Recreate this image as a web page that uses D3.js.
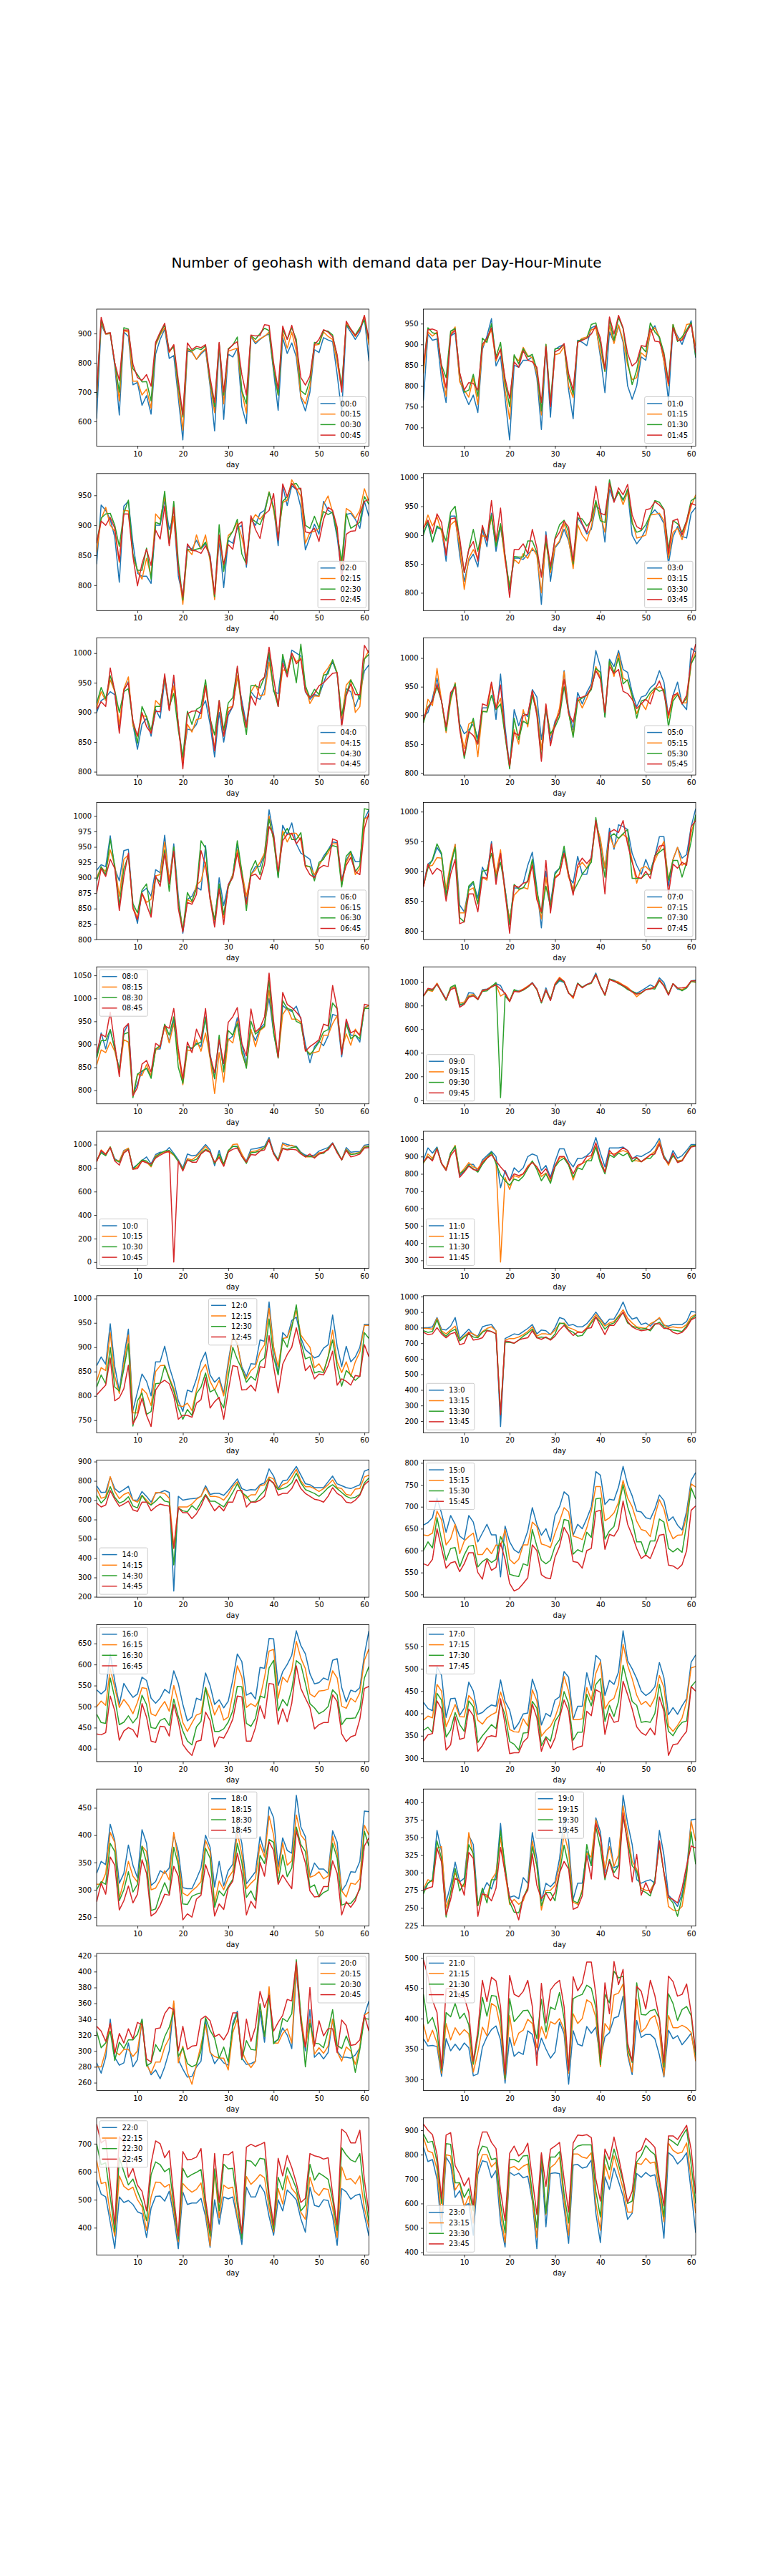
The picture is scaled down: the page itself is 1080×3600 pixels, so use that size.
<!DOCTYPE html>
<html>
<head>
<meta charset="utf-8">
<script src="https://cdn.jsdelivr.net/npm/d3@7"></script>
<style>
body { margin: 0; background: #fff; }
svg { display: block; font-family: "DejaVu Sans", sans-serif; }
</style>
</head>
<body>
<div id="chart"></div>
<script>
var days = [1,2,3,4,5,6,7,8,9,10,11,12,13,14,15,16,17,18,19,20,21,22,23,24,25,26,27,28,29,30,
    31,32,33,34,35,36,37,38,39,40,41,42,43,44,45,46,47,48,49,50,51,52,53,54,55,56,57,58,59,60,61];
var hours = ["00","01","02","03","04","05","06","07","08","09","10","11",
    "12","13","14","15","16","17","18","19","20","21","22","23"];
var minutes = ["0","15","30","45"];
var legendLoc = ["lower right","lower right","lower right","lower right","lower right","lower right",
    "lower right","lower right","upper left","lower left","lower left","lower left",
    "upper center","lower left","lower left","upper left","upper left","upper left",
    "upper center","upper center","upper right","upper left","upper left","lower left"];

// one row per day: counts at :0, :15, :30, :45
var h00 = [[610,680,690,700],[930,940,945,955],[898,898,900,900],[900,900,902,903],[790,800,800,800],[622,670,700,740],[905,910,920,912],[890,905,915,912],[725,737,780,795],[733,738,760,750],
[655,690,735,740],[688,710,736,760],[625,645,670,720],[830,860,865,870],[880,895,900,905],[915,920,930,935],[815,835,840,838],[825,860,855,862],[680,700,720,740],[537,570,615,622],
[840,845,850,868],[837,838,840,845],[812,812,850,856],[830,835,845,852],[845,848,858,862],[720,730,740,750],[568,630,650,665],[860,865,866,870],[607,660,690,700],[830,840,848,845],
[820,845,860,862],[850,850,888,872],[650,700,705,760],[593,628,660,690],[890,893,893,895],[865,870,880,892],[880,882,900,893],[892,890,918,930],[898,905,910,928],[770,780,780,800],
[638,690,690,710],[885,905,915,925],[832,850,880,880],[868,905,920,928],[820,840,880,865],[680,685,705,750],[636,660,692,724],[700,720,740,755],[845,860,870,862],[835,863,865,880],
[886,905,910,913],[878,890,908,905],[872,880,895,888],[760,800,820,828],[630,710,720,700],[928,935,930,942],[905,912,915,915],[880,890,895,893],[905,915,920,912],[955,960,945,962],
[805,860,880,880]];
var h01 = [[765,830,850,850],[925,930,940,935],[910,920,928,937],[913,930,925,933],[815,840,850,845],[760,775,820,795],[920,925,932,922],[928,942,938,935],[815,810,830,832],[780,790,785,790],
[755,773,790,808],[778,820,828,806],[736,755,775,790],[888,895,915,900],[920,912,905,915],[962,935,950,940],[848,860,870,865],[872,890,905,888],[770,790,810,818],[670,720,750,770],
[850,872,875,858],[845,860,853,845],[862,893,890,885],[862,873,870,862],[870,868,876,858],[820,830,840,845],[695,730,740,760],[893,900,900,895],[725,755,760,750],[888,875,890,882],
[895,878,890,888],[900,895,900,902],[790,800,820,830],[721,772,780,790],[910,905,908,905],[905,915,912,910],[897,918,915,915],[940,935,948,925],[945,940,952,945],[870,880,900,915],
[784,835,835,840],[930,945,960,966],[905,902,910,925],[945,947,965,970],[905,910,938,940],[800,850,860,878],[768,815,803,848],[800,820,838,858],[870,880,895,897],[862,870,882,895],
[930,930,952,940],[945,940,930,908],[915,918,918,906],[860,860,880,875],[765,800,810,805],[940,948,948,940],[920,915,907,910],[900,912,918,910],[930,948,935,930],[957,950,952,948],
[868,895,870,880]];
var h02 = [[835,855,870,870],[934,910,912,907],[925,930,919,900],[910,900,920,913],[880,890,900,895],[805,838,865,840],[932,925,920,919],[940,924,942,919],[870,850,852,848],[820,825,825,799],
[815,810,825,836],[815,845,862,860],[803,815,810,833],[900,919,905,892],[900,910,902,877],[942,948,957,932],[893,870,870,866],[915,915,940,930],[815,830,840,825],[780,768,775,780],
[865,860,860,869],[860,851,858,858],[875,884,860,857],[860,860,862,853],[870,884,872,866],[850,840,845,848],[780,776,781,785],[875,880,901,884],[796,830,823,835],[875,883,878,868],
[870,890,890,860],[895,905,910,900],[900,880,852,906],[830,845,835,835],[910,905,912,916],[900,918,906,893],[920,910,901,878],[925,920,920,918],[955,956,955,925],[930,925,930,953],
[866,880,880,875],[965,938,940,969],[933,942,948,948],[966,976,968,970],[960,962,970,960],[930,948,958,962],[859,870,900,889],[880,888,895,887],[902,890,915,895],[885,895,895,873],
[940,935,923,910],[925,949,918,930],[920,922,922,925],[880,890,885,897],[820,830,840,806],[918,928,920,885],[920,923,895,890],[910,912,900,891],[895,925,905,920],[940,961,948,940],
[915,940,935,943]];
var h03 = [[905,910,900,912],[920,935,925,926],[888,916,888,903],[913,932,916,937],[910,906,910,922],[855,870,890,865],[933,918,940,928],[933,925,950,930],[865,880,890,895],[820,806,835,835],
[855,860,875,875],[867,875,910,889],[845,860,872,855],[910,900,912,917],[880,895,895,890],[938,930,935,960],[872,885,880,890],[915,918,920,947],[862,855,865,862],[805,812,808,792],
[860,858,863,875],[860,851,862,875],[858,868,862,885],[867,860,890,868],[875,878,890,910],[870,865,870,878],[780,800,830,827],[906,890,890,900],[820,835,840,846],[878,880,895,893],
[888,890,918,905],[910,920,926,924],[890,893,905,914],[850,842,850,855],[930,918,930,940],[918,900,928,920],[902,890,916,905],[910,915,925,930],[950,955,960,985],[945,935,925,938],
[888,905,922,935],[980,990,996,990],[958,960,960,957],[975,976,975,982],[962,953,960,970],[975,975,980,988],[900,925,920,935],[885,895,905,915],[895,897,908,910],[910,900,918,944],
[935,935,935,946],[944,936,960,958],[935,938,957,952],[920,925,945,944],[850,860,875,867],[897,905,925,925],[915,912,920,928],[898,892,905,900],[895,920,925,925],[938,950,960,955],
[948,970,965,952]];
var h04 = [[900,908,915,905],[920,935,942,918],[925,920,923,910],[935,955,962,975],[930,935,937,935],[875,880,900,865],[937,940,935,938],[952,960,940,950],[880,878,885,885],[838,860,848,860],
[880,895,910,900],[890,893,893,876],[860,865,870,865],[905,920,910,902],[890,912,910,901],[955,958,960,965],[905,905,910,903],[958,945,932,963],[880,880,870,880],[820,815,825,805],
[872,880,902,898],[870,867,880,902],[880,888,905,903],[905,890,910,898],[920,945,955,945],[880,890,890,893],[825,840,862,835],[900,915,920,920],[850,860,870,860],[895,908,916,900],
[910,910,925,910],[960,962,975,978],[920,910,905,912],[880,875,863,875],[935,935,945,928],[925,947,945,912],[922,928,941,952],[940,930,960,960],[998,985,1002,1010],[935,940,938,958],
[932,915,910,910],[990,972,998,983],[965,970,965,960],[1005,1000,995,1000],[1000,985,950,982],[995,992,1015,990],[935,945,945,935],[922,915,925,925],[930,928,939,932],[928,927,930,945],
[950,965,963,950],[970,975,965,958],[985,988,989,966],[965,967,965,967],[880,890,895,876],[940,946,930,928],[935,955,955,948],[910,900,940,930],[930,910,922,930],[970,990,990,1013],
[980,1005,998,1000]];
var h05 = [[900,887,887,893],[905,928,915,913],[930,917,925,925],[965,982,950,955],[925,925,925,925],[875,870,873,880],[935,925,930,940],[955,957,955,950],[885,880,880,875],[868,842,825,830],
[875,885,868,872],[885,890,895,865],[860,828,850,850],[913,907,907,920],[913,907,906,917],[955,955,935,958],[893,912,910,912],[972,930,920,953],[880,865,865,870],[810,810,807,812],
[910,875,895,870],[882,850,858,865],[905,910,890,900],[898,880,885,902],[945,942,935,943],[932,910,905,900],[858,840,825,820],[912,918,912,920],[855,865,868,847],[890,885,880,885],
[905,913,898,905],[978,976,950,963],[910,905,905,903],[875,865,862,888],[940,930,925,930],[920,913,930,932],[940,930,935,935],[955,950,945,948],[1013,985,982,978],[985,965,975,963],
[898,905,897,905],[998,993,995,985],[985,968,975,973],[1013,1008,1000,980],[980,965,955,942],[975,960,962,938],[940,932,935,928],[915,903,895,912],[932,922,925,920],[935,910,928,928],
[948,935,940,920],[955,945,948,945],[978,950,942,960],[958,945,945,938],[898,895,880,900],[935,930,925,935],[958,940,936,938],[920,922,920,920],[910,922,930,935],[1017,990,990,995],
[1010,1010,1005,1024]];
var h06 = [[912,900,895,875],[921,917,918,915],[918,910,905,902],[968,945,963,930],[915,920,918,915],[895,870,855,847],[944,930,915,902],[946,937,935,940],[855,852,858,850],[826,835,843,832],
[877,875,880,875],[883,860,890,856],[870,865,840,836],[913,903,900,903],[908,905,893,886],[969,958,945,940],[893,895,878,890],[955,948,950,943],[870,862,860,850],[810,815,815,812],
[865,865,876,860],[870,860,862,857],[885,888,882,873],[880,895,960,944],[952,925,948,920],[870,870,865,865],[825,830,832,820],[900,888,890,882],[855,835,840,824],[888,885,885,889],
[905,905,902,900],[955,945,960,940],[905,910,910,900],[862,870,847,857],[905,905,912,903],[918,913,928,906],[918,925,905,897],[940,940,935,922],[1010,1000,995,983],[970,960,962,970],
[901,907,900,910],[985,976,968,960],[970,958,980,970],[989,972,962,972],[955,972,962,955],[940,960,973,965],[935,918,920,918],[930,918,918,905],[900,905,895,900],[920,920,925,915],
[935,932,930,920],[945,940,945,918],[958,955,952,963],[957,955,950,960],[895,888,885,895],[928,925,935,920],[942,940,943,933],[926,905,910,910],[926,915,920,905],[995,995,1012,980],
[1010,1000,1010,1005]];
var h07 = [[878,875,875,873],[912,908,905,912],[918,910,920,895],[940,923,946,905],[928,922,930,900],[860,870,858,850],[905,915,910,895],[945,945,940,920],[843,830,822,812],[832,830,815,815],
[872,868,875,862],[880,872,883,862],[855,845,845,832],[907,890,900,890],[892,885,902,888],[950,945,930,946],[885,895,890,878],[930,936,915,930],[870,860,870,865],[815,820,810,796],
[872,860,878,876],[872,868,870,873],[880,873,872,880],[910,870,885,882],[932,915,920,910],[872,860,868,852],[805,820,830,832],[900,890,875,918],[845,840,840,830],[898,890,895,888],
[905,896,905,895],[935,930,942,930],[890,890,895,895],[880,870,865,860],[925,905,880,910],[895,915,895,922],[895,905,905,913],[925,920,915,922],[985,980,990,985],[950,955,940,935],
[905,905,890,862],[972,960,958,965],[937,940,963,970],[978,955,955,965],[975,962,963,985],[970,955,970,945],[930,918,888,915],[910,880,888,890],[895,905,888,888],[920,908,895,900],
[900,900,895,888],[925,918,926,925],[958,935,932,942],[958,950,938,944],[875,885,885,862],[920,920,918,912],[940,940,918,905],[922,910,890,915],[928,915,915,910],[975,965,950,975],
[1005,990,995,985]];
var h08 = [[870,855,870,880],[925,888,908,922],[890,882,908,916],[932,905,932,970],[890,885,890,900],[845,840,845,830],[925,910,922,935],[945,905,926,945],[790,790,784,788],[815,835,835,806],
[840,832,842,857],[848,856,848,865],[830,832,826,840],[890,887,890,902],[890,895,897,895],[942,940,944,940],[905,903,920,935],[955,945,960,978],[880,880,850,890],[820,812,815,825],
[895,888,895,905],[890,885,892,882],[903,910,900,933],[895,885,905,910],[960,925,958,978],[880,870,873,875],[825,793,826,838],[910,882,920,910],[845,818,840,858],[910,912,930,948],
[918,903,920,960],[958,950,945,980],[900,880,886,902],[858,852,848,875],[930,933,950,977],[908,895,922,927],[935,930,932,936],[945,938,940,960],[1000,1018,1040,1055],[925,930,925,950],
[875,872,870,872],[985,965,995,1013],[975,980,978,987],[972,955,975,980],[983,955,950,970],[955,948,945,958],[900,888,890,885],[860,880,877,895],[895,882,890,902],[907,885,905,910],
[897,920,927,944],[918,920,932,940],[965,945,990,1028],[962,963,977,978],[873,888,880,878],[950,923,945,955],[920,898,912,925],[920,933,920,930],[905,918,912,920],[980,978,978,987],
[985,985,978,985]];
var h09 = [[880,880,880,880],[940,930,935,945],[925,920,930,938],[985,990,980,982],[920,915,915,915],[855,850,843,850],[945,950,955,935],[965,960,975,950],[800,820,810,786],[820,830,815,810],
[910,885,875,870],[905,895,885,882],[855,855,850,852],[935,930,920,925],[940,935,925,935],[960,965,960,955],[985,975,995,975],[970,880,20,940],[890,905,880,905],[840,840,835,833],
[930,925,935,920],[925,920,915,915],[935,940,930,935],[960,965,955,960],[995,990,990,990],[940,935,935,940],[825,830,822,830],[950,935,925,930],[845,850,855,842],[970,985,975,980],
[1010,1040,1020,1030],[995,1005,1000,1005],[905,910,905,905],[870,860,875,870],[990,985,990,985],[955,955,955,950],[980,975,975,978],[995,990,990,995],[1075,1060,1065,1062],[960,965,970,965],
[895,890,885,890],[1025,1025,1025,1020],[1015,1010,1010,1005],[995,1000,985,990],[965,975,965,970],[945,955,935,945],[920,920,920,915],[905,875,900,895],[925,905,905,910],[950,935,935,935],
[975,945,945,940],[955,960,940,955],[1035,1020,1010,1015],[995,970,970,965],[890,900,895,888],[985,985,985,985],[940,945,950,948],[930,935,925,950],[950,960,950,955],[1010,1005,1005,1010],
[1015,995,1000,1010]];
var h10 = [[860,855,865,855],[940,955,930,950],[915,920,905,915],[975,980,980,975],[880,870,870,860],[855,860,850,825],[950,945,930,930],[965,970,960,955],[800,790,790,790],[830,810,830,795],
[865,860,870,860],[895,850,860,845],[835,810,820,835],[915,905,895,885],[935,920,925,910],[935,940,945,930],[975,935,950,945],[925,910,915,0],[870,860,855,860],[800,790,790,775],
[920,880,870,870],[905,870,860,850],[910,900,875,850],[955,940,925,920],[1000,985,960,950],[955,935,935,935],[820,840,840,850],[950,900,920,890],[820,820,835,815],[940,935,950,935],
[985,1000,985,960],[985,1005,980,970],[910,920,900,900],[860,850,840,850],[960,940,930,915],[965,945,935,910],[975,960,945,945],[985,975,975,955],[1060,1045,1040,1040],[935,925,925,920],
[870,865,870,860],[1015,1005,970,965],[1000,985,960,955],[990,995,975,960],[985,975,980,955],[935,930,925,920],[910,895,900,895],[905,895,900,920],[910,900,890,885],[945,930,920,920],
[960,935,925,935],[975,965,965,955],[1015,1010,1010,1010],[945,935,940,930],[870,870,870,870],[975,960,955,950],[935,920,915,895],[940,925,920,905],[940,935,930,920],[995,985,975,970],
[1000,985,985,975]];
var h11 = [[880,860,865,870],[950,915,900,898],[920,890,880,875],[955,945,950,945],[860,860,860,860],[825,830,820,820],[920,915,920,905],[955,965,960,940],[790,800,800,780],[815,830,820,810],
[855,865,850,845],[855,840,830,825],[815,830,810,820],[880,870,855,865],[905,895,890,890],[930,920,925,910],[900,870,860,875],[720,290,795,840],[820,780,760,810],[760,710,735,760],
[835,790,770,800],[810,780,760,790],[835,800,785,800],[900,845,830,840],[915,870,875,865],[905,840,825,840],[820,785,760,800],[848,805,800,830],[780,755,745,770],[870,845,840,845],
[945,890,875,900],[945,900,890,900],[875,855,850,860],[840,765,780,800],[890,840,835,850],[890,860,825,860],[905,875,875,900],[930,895,875,905],[1010,960,955,980],[920,880,860,880],
[840,810,800,810],[950,920,910,935],[950,915,895,905],[950,925,920,930],[955,935,905,950],[935,925,920,935],[885,875,870,890],[905,875,890,895],[900,870,870,870],[915,885,890,890],
[930,910,890,910],[960,930,920,915],[1005,990,970,975],[905,900,895,890],[860,850,860,860],[935,910,905,920],[890,875,870,865],[905,880,875,875],[935,920,920,915],[970,960,960,955],
[970,965,965,960]];
var h12 = [[862,830,818,802],[880,858,843,812],[865,852,825,822],[948,930,900,878],[860,840,818,790],[810,805,810,796],[880,865,855,815],[937,925,907,863],[770,765,738,742],[808,765,790,760],
[845,815,806,795],[830,805,762,760],[800,780,768,737],[870,850,825,812],[870,862,826,826],[902,863,862,832],[860,838,835,825],[830,815,810,800],[790,780,775,752],[768,778,752,760],
[812,785,772,760],[808,770,760,756],[835,812,805,785],[870,850,818,792],[890,865,847,838],[843,830,808,775],[828,812,813,788],[838,832,793,797],[805,800,775,752],[870,862,840,810],
[925,925,900,862],[905,908,875,860],[860,855,855,812],[840,835,828,813],[866,852,840,822],[865,860,832,810],[915,890,870,860],[912,905,878,858],[993,980,958,924],[900,900,880,860],
[845,860,843,806],[930,918,918,865],[920,920,900,885],[955,945,940,900],[962,975,987,940],[920,925,912,900],[895,912,876,852],[887,900,880,862],[878,858,847,835],[882,866,850,845],
[898,850,848,843],[905,880,880,862],[966,935,915,892],[902,870,860,822],[860,848,820,835],[902,870,852,830],[870,840,843,822],[880,870,832,842],[900,890,840,840],[947,945,930,905],
[947,945,918,880]];
var h13 = [[800,795,780,770],[800,795,770,755],[805,790,775,760],[865,860,850,800],[790,780,770,760],[785,760,745,735],[810,785,775,760],[865,810,790,770],[730,720,715,690],[760,745,740,700],
[790,770,760,770],[755,760,740,720],[745,740,735,725],[805,775,770,735],[815,795,785,780],[820,805,775,775],[780,780,760,760],[165,250,240,240],[730,720,705,715],[745,730,705,710],
[760,730,700,700],[755,740,720,720],[775,755,745,730],[795,775,765,735],[820,805,790,780],[760,745,735,735],[785,760,740,725],[780,760,735,740],[755,755,725,720],[800,785,760,745],
[865,825,830,785],[855,830,825,815],[815,800,785,780],[820,790,770,750],[805,775,745,770],[805,770,750,770],[825,800,790,795],[860,840,830,800],[900,885,870,870],[860,850,835,810],
[820,810,790,755],[855,830,820,815],[855,840,830,815],[905,875,870,855],[965,915,895,900],[890,860,830,840],[855,830,810,805],[865,805,800,790],[820,800,790,780],[830,795,795,785],
[810,825,780,790],[840,840,820,825],[860,865,835,825],[815,820,805,795],[810,800,790,795],[820,805,785,770],[820,800,780,760],[820,800,775,770],[840,820,810,800],[905,870,855,850],
[900,885,880,865]];
var h14 = [[775,760,725,685],[740,710,685,665],[742,718,710,675],[820,822,770,750],[760,745,715,705],[740,708,685,668],[755,730,695,680],[772,740,718,695],[700,700,670,650],[700,690,660,642],
[745,725,725,690],[720,700,690,690],[690,675,675,645],[735,740,695,665],[740,738,720,680],[750,735,695,673],[740,710,690,670],[230,460,365,450],[720,665,660,660],[700,665,645,635],
[705,665,640,635],[708,680,672,605],[710,705,650,630],[720,720,690,670],[775,765,730,725],[730,720,695,685],[735,720,695,645],[735,715,680,670],[725,700,665,645],[750,730,700,690],
[780,770,740,690],[810,795,785,750],[760,740,740,750],[750,710,722,665],[755,728,690,690],[753,728,695,690],[780,775,725,700],[790,780,750,720],[862,820,810,805],[825,810,785,790],
[760,755,755,725],[800,780,760,735],[805,790,770,735],[840,820,790,760],[875,860,840,808],[830,800,790,760],[785,770,755,735],[780,770,745,720],[765,760,735,705],[765,745,720,700],
[765,760,740,690],[795,780,765,720],[825,805,780,765],[785,765,760,735],[775,760,740,720],[765,730,720,690],[760,725,710,685],[770,758,715,700],[780,760,730,725],[850,820,790,780],
[860,830,815,800]];
var h15 = [[658,636,600,570],[664,634,620,566],[675,640,606,580],[720,690,675,650],[685,670,625,605],[642,613,578,560],[680,627,605,572],[660,660,607,575],[633,593,563,552],[625,622,590,570],
[680,632,610,595],[665,640,612,595],[620,591,563,550],[640,591,575,535],[660,606,582,580],[636,593,573,555],[636,613,580,562],[540,610,632,617],[656,648,610,580],[620,580,546,525],
[602,570,543,508],[595,580,541,513],[615,613,570,525],[645,613,566,538],[698,665,648,613],[660,655,610,600],[635,615,578,545],[650,612,570,538],[621,607,578,536],[680,640,610,585],
[700,667,625,610],[734,698,671,653],[725,688,668,635],[635,633,592,575],[660,630,602,573],[650,625,597,560],[673,652,642,600],[700,690,630,605],[780,746,718,689],[772,746,720,692],
[705,668,626,603],[717,675,645,637],[715,686,655,633],[745,710,700,650],[792,760,750,713],[750,720,700,660],[725,700,668,635],[690,667,620,605],[688,648,620,582],[675,645,590,590],
[672,632,622,582],[695,680,622,608],[727,716,672,635],[714,695,665,637],[668,650,605,567],[677,627,597,565],[658,635,605,558],[647,636,596,568],[690,680,660,600],[760,752,743,692],
[778,745,718,702]];
var h16 = [[540,500,482,435],[530,513,462,433],[540,503,460,438],[625,590,568,525],[560,545,520,490],[505,498,457,420],[555,517,463,442],[537,503,478,450],[522,483,461,445],[530,510,475,427],
[570,545,527,507],[562,543,505,475],[520,483,450,418],[508,478,448,415],[520,497,467,453],[541,512,472,452],[532,489,455,430],[585,550,518,505],[555,510,476,465],[505,462,442,410],
[466,441,418,395],[475,461,409,384],[520,480,452,417],[515,484,465,420],[580,546,545,487],[550,518,491,467],[505,480,441,404],[516,503,441,428],[497,468,447,425],[513,475,463,445],
[563,530,490,470],[625,597,548,525],[607,570,547,523],[527,498,460,418],[533,507,453,418],[518,500,472,450],[593,520,525,502],[591,570,521,472],[662,632,592,555],[661,636,610,553],
[550,520,490,458],[583,570,517,495],[600,558,502,464],[622,586,541,508],[680,655,609,597],[645,615,600,543],[625,590,555,520],[578,530,507,498],[554,523,497,447],[557,537,483,457],
[568,538,489,462],[563,541,500,462],[610,585,540,528],[614,568,528,512],[545,501,457,435],[511,496,472,417],[539,520,472,428],[535,511,473,432],[545,533,495,470],[623,610,568,543],
[680,637,595,548]];
var h17 = [[425,385,362,338],[411,394,369,352],[406,390,357,355],[505,465,445,428],[485,450,430,410],[391,370,347,318],[433,395,363,330],[434,420,402,393],[396,393,375,342],[412,392,360,345],
[470,440,428,410],[450,428,415,395],[398,385,335,315],[402,376,350,328],[412,390,362,347],[419,397,375,350],[416,402,366,348],[475,448,425,433],[427,416,397,376],[408,364,337,310],
[364,359,331,312],[378,358,318,312],[399,388,356,336],[401,372,357,346],[477,453,427,421],[447,428,412,390],[374,349,328,315],[400,362,348,345],[393,371,338,322],[430,391,382,345],
[437,421,398,390],[494,483,449,430],[481,450,422,405],[387,386,340,318],[416,386,358,324],[416,388,358,327],[491,458,443,405],[452,430,417,395],[530,490,465,453],[520,515,478,447],
[440,410,382,353],[474,427,418,400],[465,434,393,380],[493,465,427,383],[585,555,508,472],[518,508,467,442],[500,478,427,410],[478,441,418,370],[450,420,380,357],[440,427,382,351],
[447,415,380,367],[460,435,400,352],[514,485,465,437],[480,458,415,405],[397,372,360,306],[413,360,350,330],[398,373,368,332],[417,390,380,347],[433,427,383,360],[515,502,460,460],
[531,505,472,450]];
var h18 = [[330,310,300,278],[352,310,315,312],[346,330,310,292],[420,405,385,360],[390,387,370,345],[312,285,280,263],[330,315,300,280],[382,352,333,307],[345,325,296,276],[322,314,310,292],
[410,380,380,355],[385,370,350,330],[308,300,262,252],[315,303,265,258],[335,318,292,272],[330,335,313,292],[340,318,292,290],[400,405,378,343],[370,354,345,325],[304,294,274,245],
[302,289,273,256],[302,298,288,250],[320,305,292,283],[340,315,294,290],[400,390,376,346],[378,370,358,322],[305,276,268,252],[352,316,298,274],[307,300,289,264],[335,322,306,303],
[347,334,319,316],[422,405,385,367],[385,365,350,330],[311,302,286,254],[322,312,298,279],[333,320,280,266],[397,383,363,350],[368,360,348,325],[452,435,392,388],[432,400,387,372],
[342,330,313,310],[395,386,364,327],[372,345,324,314],[367,353,340,302],[473,437,415,408],[415,400,383,377],[397,390,370,349],[325,323,304,298],[349,326,309,287],[338,333,287,288],
[338,320,295,306],[330,325,299,306],[408,398,385,353],[387,368,358,330],[298,298,272,254],[310,287,275,278],[333,312,275,268],[332,310,285,280],[352,320,301,305],[444,418,407,380],
[443,400,380,395]];
var h19 = [[275,277,270,275],[285,290,285,278],[290,287,290,280],[360,335,345,335],[330,337,320,315],[258,250,237,240],[282,270,272,262],[315,300,306,292],[287,285,274,288],[292,280,285,268],
[353,357,340,329],[340,325,327,320],[254,253,253,238],[272,270,278,270],[286,265,257,268],[277,290,290,260],[297,300,290,278],[370,350,360,336],[300,300,310,300],[265,255,258,265],
[267,262,244,252],[263,255,243,233],[293,260,265,265],[285,280,278,275],[357,345,337,327],[320,310,310,282],[260,247,253,263],[285,275,272,271],[280,275,272,260],[287,282,260,272],
[320,310,300,300],[378,355,339,316],[345,330,310,305],[262,258,260,248],[285,255,257,251],[285,276,273,267],[330,328,340,324],[310,322,310,291],[378,375,365,370],[358,350,335,350],
[300,305,290,293],[350,337,319,316],[307,309,300,295],[310,325,310,291],[410,395,380,385],[370,355,345,340],[340,316,310,287],[290,305,302,326],[285,278,275,268],[288,275,272,286],
[290,275,267,271],[285,287,290,285],[360,345,340,345],[325,300,300,300],[268,252,265,265],[261,247,257,262],[252,246,238,257],[270,252,265,278],[303,295,300,310],[375,373,358,338],
[376,345,312,335]];
var h20 = [[285,280,325,331],[272,280,304,325],[292,300,310,312],[340,335,325,335],[292,300,288,297],[282,295,311,322],[285,302,303,310],[310,302,314,328],[280,293,314,315],[289,300,321,336],
[340,338,340,333],[285,283,281,290],[270,272,285,286],[276,286,308,328],[265,286,299,329],[280,305,318,347],[300,316,330,355],[360,363,350,352],[289,285,293,300],[277,306,304,331],
[267,273,284,302],[268,258,280,306],[280,283,283,307],[287,308,300,340],[340,333,342,344],[300,298,326,338],[284,293,316,318],[292,291,291,321],[285,291,305,314],[282,276,286,324],
[335,323,331,348],[350,340,347,348],[291,300,289,291],[283,287,313,340],[284,279,302,312],[287,287,301,330],[350,360,359,375],[311,318,318,355],[375,381,370,370],[311,310,309,325],
[314,310,315,336],[329,322,341,345],[320,328,337,365],[303,310,347,363],[400,405,415,412],[340,345,345,335],[300,305,280,305],[352,340,335,380],[292,296,310,306],[298,304,309,338],
[290,297,304,319],[298,306,325,328],[340,340,352,328],[300,299,307,298],[292,287,303,339],[292,305,319,332],[291,300,304,307],[295,283,273,308],[304,306,302,314],[345,345,341,345],
[363,349,340,325]];
var h21 = [[367,391,440,497],[355,362,392,470],[356,381,402,430],[354,360,378,410],[305,310,315,318],[367,392,410,449],[347,365,403,450],[358,385,425,448],[348,373,400,435],[360,382,409,435],
[352,375,390,410],[306,312,325,330],[309,345,370,380],[353,386,435,463],[370,372,404,428],[382,425,438,468],[388,420,437,462],[365,385,405,420],[294,300,302,308],[369,405,433,471],
[338,356,395,440],[345,376,404,436],[341,381,413,445],[380,399,414,463],[374,392,400,420],[340,352,367,323],[368,387,432,458],[350,367,378,393],[335,395,419,447],[345,391,415,457],
[394,400,443,463],[375,382,400,420],[292,310,318,315],[380,408,433,469],[358,392,437,446],[355,400,440,458],[387,431,455,493],[376,426,450,493],[386,402,418,440],[333,321,324,334],
[370,392,440,459],[377,381,426,408],[401,439,478,494],[404,442,467,456],[437,457,470,481],[340,345,350,360],[308,312,328,330],[397,432,459,453],[369,378,407,445],[374,385,406,416],
[374,400,413,463],[367,405,415,438],[340,380,400,400],[304,306,320,328],[381,405,441,470],[367,385,425,461],[372,385,397,437],[357,389,415,440],[366,385,420,457],[376,377,405,410],
[335,330,340,345]];
var h22 = [[570,640,700,770],[520,558,625,703],[510,562,632,715],[420,450,510,560],[326,370,385,410],[510,585,650,725],[490,548,600,705],[497,535,553,580],[483,545,574,612],[457,500,530,552],
[450,475,490,530],[365,390,425,460],[470,510,590,630],[512,563,635,710],[513,562,625,700],[495,545,600,650],[530,555,612,675],[440,460,480,510],[325,350,360,370],[527,558,612,672],
[483,540,580,642],[488,527,590,645],[488,537,598,652],[505,560,608,683],[440,460,480,500],[330,335,370,390],[500,605,610,665],[413,435,460,490],[510,552,627,662],[503,540,610,660],
[510,545,612,672],[430,440,480,510],[340,370,360,380],[545,583,640,688],[510,555,638,698],[510,570,620,690],[553,590,648,697],[527,578,645,705],[440,470,500,520],[373,385,395,410],
[500,540,580,648],[460,485,535,585],[535,585,615,658],[518,540,580,615],[500,520,540,560],[432,455,460,490],[384,430,480,505],[545,580,627,665],[480,530,570,657],[475,515,595,653],
[500,540,585,645],[497,537,573,650],[440,470,500,520],[337,365,390,410],[540,617,685,752],[528,572,660,738],[502,575,642,703],[515,557,635,703],[520,585,665,748],[445,470,520,570],
[370,400,420,450]];
var h23 = [[830,870,885,925],[772,815,850,900],[780,808,855,882],[700,740,770,800],[486,540,600,620],[790,800,845,880],[760,795,842,890],[625,655,685,755],[652,685,685,720],[590,585,625,672],
[600,630,660,705],[470,520,570,590],[720,740,795,820],[775,800,835,893],[770,800,830,893],[705,750,780,850],[735,770,785,825],[520,560,600,650],[422,440,480,530],[728,745,780,805],
[715,752,780,835],[724,737,770,795],[705,753,795,810],[712,762,797,847],[610,620,640,700],[415,460,500,555],[770,790,800,808],[505,555,560,670],[723,747,790,822],[726,762,790,835],
[722,790,812,850],[580,610,640,700],[437,470,520,565],[757,803,818,848],[760,803,835,880],[745,790,840,878],[750,785,840,882],[778,808,840,870],[560,600,650,700],[440,490,545,610],
[710,760,800,823],[658,700,738,780],[745,795,823,872],[690,730,760,790],[630,660,690,700],[535,565,600,605],[560,565,610,650],[723,765,770,808],[707,760,795,820],[727,785,837,867],
[712,765,815,850],[718,770,800,830],[620,640,680,700],[458,525,545,590],[808,847,865,877],[793,818,853,877],[762,805,838,862],[780,810,875,890],[808,848,905,920],[650,700,760,820],
[480,560,600,640]];

var panels = [h00,h01,h02,h03,h04,h05,h06,h07,h08,h09,h10,h11,
    h12,h13,h14,h15,h16,h17,h18,h19,h20,h21,h22,h23];
var colors = ["#1f77b4", "#ff7f0e", "#2ca02c", "#d62728"];

var width = 1080, height = 3600;
var left0 = 135, colStep = 456.55, pw = 380.45;
var top0 = 432, rowStep = 229.8, ph = 191.5;

// same picks as matplotlib's MaxNLocator (nbins 9, steps 1, 2, 2.5, 5, 10)
function nice_ticks(lo, hi, nbins){
    var raw = (hi - lo) / nbins;
    var scale = Math.pow(10, Math.floor(Math.log10(raw)));
    var steps = [1, 2, 2.5, 5, 10];
    var step = 10 * scale;
    for(var i = 0; i < steps.length; i++){
        if(steps[i] * scale >= raw - 1e-9){ step = steps[i] * scale; break; }
    }
    var ticks = [];
    for(var v = Math.ceil(lo / step - 1e-9) * step; v <= hi + 1e-9; v += step){
        ticks.push(Math.round(v * 100) / 100);
    }
    return ticks;
}

var svg = d3.select("#chart").append("svg")
    .attr("width", width)
    .attr("height", height);

svg.append("rect").attr("width", width).attr("height", height).attr("fill", "#fff");

svg.append("text")
    .attr("x", width / 2)
    .attr("y", 374)
    .attr("text-anchor", "middle")
    .style("font-size", "20px")
    .text("Number of geohash with demand data per Day-Hour-Minute");

function render(rows, idx){
    var col = idx % 2, row = Math.floor(idx / 2);
    var gx = left0 + col * colStep, gy = top0 + row * rowStep;
    var g = svg.append("g").attr("transform", "translate(" + gx + "," + gy + ")");

    var series = minutes.map(function(m, k){
        return rows.map(function(r){ return r[k]; });
    });
    var lo = d3.min(series, function(s){ return d3.min(s); });
    var hi = d3.max(series, function(s){ return d3.max(s); });
    var pad = (hi - lo) * 0.05;

    var x = d3.scaleLinear().domain([1, 61]).range([0, pw]);
    var y = d3.scaleLinear().domain([lo - pad, hi + pad]).range([ph, 0]);

    g.append("clipPath").attr("id", "clip" + idx)
        .append("rect").attr("width", pw).attr("height", ph);

    var line = d3.line()
        .x(function(d, i){ return x(days[i]); })
        .y(function(d){ return y(d); });

    g.append("g").attr("clip-path", "url(#clip" + idx + ")")
        .selectAll("path")
        .data(series)
        .enter()
        .append("path")
            .attr("d", line)
            .attr("fill", "none")
            .attr("stroke", function(d, i){ return colors[i]; })
            .attr("stroke-width", 1.5)
            .attr("stroke-linejoin", "round");

    var xAxis = g.append("g")
        .attr("transform", "translate(0," + ph + ")")
        .call(d3.axisBottom(x).tickValues(nice_ticks(1, 61, 9))
            .tickSize(3.5).tickSizeOuter(0).tickPadding(3.5).tickFormat(d3.format("d")));
    var yAxis = g.append("g")
        .call(d3.axisLeft(y).tickValues(nice_ticks(lo - pad, hi + pad, 9))
            .tickSize(3.5).tickSizeOuter(0).tickPadding(3.5).tickFormat(d3.format("d")));
    [xAxis, yAxis].forEach(function(a){
        a.select(".domain").remove();
        a.selectAll("line").attr("stroke", "#000").attr("stroke-width", 0.8);
        a.selectAll("text").attr("fill", "#000")
            .style("font-size", "10px").style("font-family", "DejaVu Sans");
    });

    g.append("rect")
        .attr("width", pw).attr("height", ph)
        .attr("fill", "none").attr("stroke", "#000").attr("stroke-width", 0.8);

    g.append("text")
        .attr("x", pw / 2).attr("y", ph + 29)
        .attr("text-anchor", "middle")
        .style("font-size", "10px")
        .text("day");

    //legend box sized after the labels are measured
    var legend = g.append("g");
    var box = legend.append("rect")
        .attr("fill", "#fff").attr("fill-opacity", 0.8)
        .attr("stroke", "#cccccc").attr("stroke-width", 1)
        .attr("rx", 2).attr("ry", 2);
    var tw = 0;
    minutes.forEach(function(m, k){
        var cy = 9.5 + k * 14.7;
        legend.append("line")
            .attr("x1", 3.5).attr("x2", 24.5).attr("y1", cy).attr("y2", cy)
            .attr("stroke", colors[k]).attr("stroke-width", 1.5);
        var t = legend.append("text")
            .attr("x", 31.5).attr("y", cy + 3.6)
            .style("font-size", "10px")
            .text(hours[idx] + ":" + m);
        tw = Math.max(tw, t.node().getComputedTextLength());
    });
    var lw = 31.5 + tw + 7, lh = 65;
    box.attr("width", lw).attr("height", lh);
    var loc = legendLoc[idx], lx, ly;
    if(loc.indexOf("left") >= 0) lx = 4;
    else if(loc.indexOf("right") >= 0) lx = pw - 4 - lw;
    else lx = (pw - lw) / 2;
    ly = loc.indexOf("upper") === 0 ? 4 : ph - 4 - lh;
    legend.attr("transform", "translate(" + lx + "," + ly + ")");
}

panels.forEach(function(rows, i){ render(rows, i); });
</script>
</body>
</html>
